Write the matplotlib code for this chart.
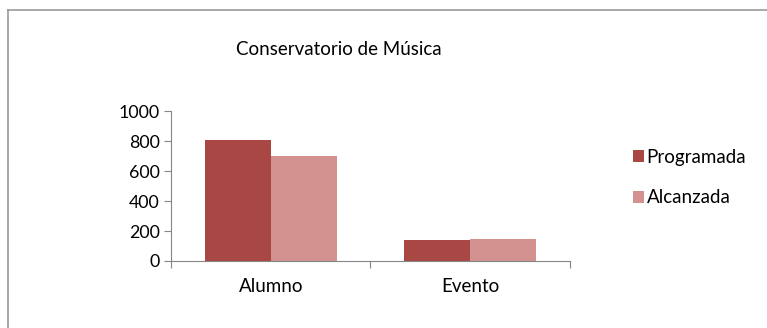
import matplotlib.pyplot as plt
import numpy as np
from matplotlib.lines import Line2D

categorias = ['Alumno', 'Evento']
programada = [810, 137]
alcanzada = [700, 150]

plt.rcParams['font.family'] = ['Lato', 'DejaVu Sans']

fig = plt.figure(figsize=(7.67, 3.28), dpi=100)
ax = fig.add_axes([0.223, 0.2043, 0.52, 0.457])

x = np.arange(len(categorias))
w = 0.33
ax.bar(x - w / 2, programada, w, color='#A94744', label='Programada')
ax.bar(x + w / 2, alcanzada, w, color='#D39190', label='Alcanzada')

ax.set_xlim(-0.5, 1.5)
ax.set_ylim(0, 1000)
ax.set_yticks(range(0, 1001, 200))
ax.set_xticks([-0.5, 0.5, 1.5])
ax.set_xticklabels([])
ax.set_xticks(x, minor=True)
ax.set_xticklabels(categorias, minor=True)
ax.tick_params(axis='x', which='minor', length=0, pad=12, labelsize=13.5)
ax.tick_params(axis='x', which='major', length=5, color='#868686')
ax.tick_params(axis='y', length=5, color='#868686', labelsize=12.8, pad=3)

for s in ['top', 'right']:
    ax.spines[s].set_visible(False)
for s in ['left', 'bottom']:
    ax.spines[s].set_color('#868686')

fig.text(0.442, 0.848, 'Conservatorio de Música', ha='center', va='center', fontsize=13.5)

ax.legend(loc='center left', bbox_to_anchor=(1.115, 0.557), frameon=False,
          fontsize=13.5, handlelength=0.6, handleheight=0.6, handletextpad=0.15,
          labelspacing=1.26)

# marco del gráfico
fig.add_artist(Line2D([8 / 767, 8 / 767], [0, 1 - 10 / 328], transform=fig.transFigure, color='#999999', lw=1.2))
fig.add_artist(Line2D([8 / 767, 1], [1 - 10 / 328, 1 - 10 / 328], transform=fig.transFigure, color='#999999', lw=1.2))

fig.savefig('out.png', dpi=100)
